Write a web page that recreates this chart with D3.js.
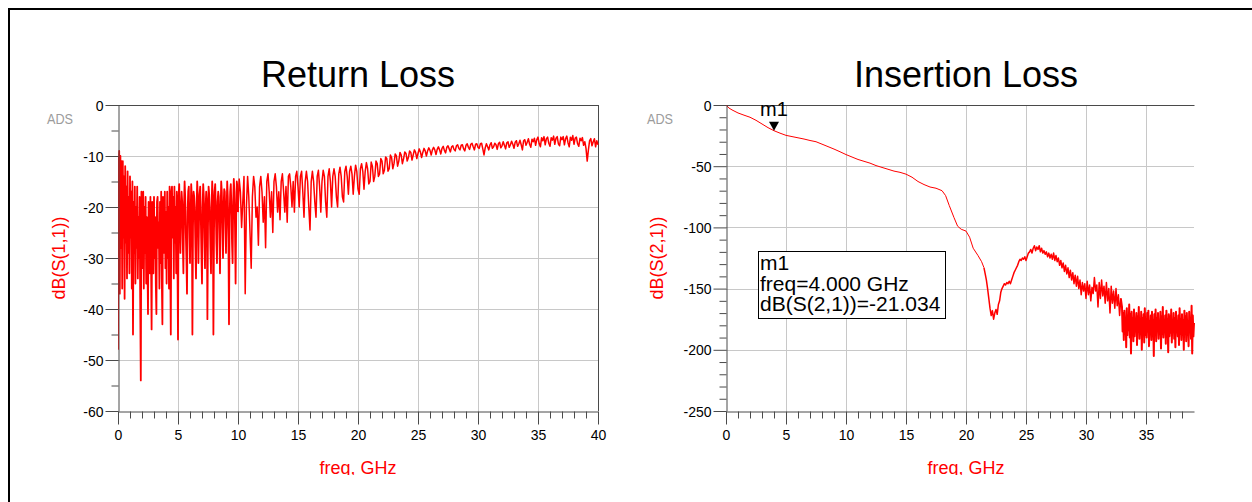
<!DOCTYPE html>
<html><head><meta charset="utf-8">
<script src="https://cdn.jsdelivr.net/npm/d3@7"></script>
<style>
html,body{margin:0;padding:0;background:#fff;}
svg{display:block;font-family:"Liberation Sans",Arial,Helvetica,sans-serif;}
</style></head><body>
<svg id="c" width="1252" height="502"></svg>
<script>
// ---------- DATA ----------
// Return loss dB(S(1,1)), sweep 0..10 GHz step 0.05
const rlLowStart = 0, rlLowStep = 0.05;
const rlLowDb = [
-48,-12,-9,-37,-10,-28,-11,-36,-11,-26,-14,-38,-12,-27,-16,-34,-13,-29,-18,-33,
-14,-26,-17,-36,-15,-45,-19,-29,-16,-35,-20,-28,-16,-34,-22,-30,-18,-38,-54,-17,
-21,-32,-17,-36,-20,-29,-18,-35,-22,-30,-41,-19,-20,-33,-18,-29,-44,-19,-21,-33,
-18,-30,-22,-35,-41,-19,-18,-28,-23,-36,-19,-31,-17,-34,-43,-18,-22,-29,-17,-32,
-21,-35,-17,-30,-20,-36,-16,-28,-45,-17,-16,-26,-18,-34,-16,-27,-20,-33,-17,-29,
-46,-18,-15.5,-22,-29,-21,-17,-19,-27,-33,-20,-15,-18,-25,-30,-37,-21,-17,-16,-24,
-31,-22,-15.5,-18,-45,-24,-17,-18,-21,-28,-34,-20,-15,-18,-31,-23,-17.5,-16,-22,-29,
-35,-20,-15.5,-18,-26,-32,-20,-17,-19,-42,-24,-16,-17.5,-21,-28,-33,-20,-15,-18,-45,
-25,-17,-15.5,-20,-27,-31,-19,-17,-18,-25,-33,-21,-15,-17,-24,-30,-20,-16.5,-17,-23,
-29,-21,-15,-18,-26,-43,-22,-17,-15.5,-20,-27,-31,-19,-14.5,-17,-24,-35,-22,-15,-16,
-21
];
// Return loss, sweep 10.1..40 GHz step 0.1
const rlHighStart = 10.1, rlHighStep = 0.1;
const rlHighDb = [
-14.5,-17,-24,-19,-14,-37,-20,-14,-18,-25,
-32,-18,-14,-16,-22,-20,-27.5,-16,-14,-17,
-23,-18,-28,-15,-13.5,-17,-22,-17,-25,-15,
-13.5,-16,-21,-17,-22.5,-15,-13.5,-17,-21,-16,
-23,-14,-13.5,-16,-20,-15,-21,-14,-13,-16,
-20,-14,-13,-17,-22,-15,-13,-15,-20,-24.5,
-15,-13,-15,-19,-22,-14,-12.8,-16,-21,-15,
-12.8,-14,-19,-22,-14,-12.5,-15,-20,-14,-12.5,
-14,-18,-20,-13.5,-12.2,-14,-18,-19,-13,-12,
-14,-17.5,-13,-12,-13.5,-17.5,-14,-11.8,-13,-16.5,
-17.5,-12.5,-11.5,-13,-16.5,-13,-11.3,-12.5,-15.5,-15,
-11.2,-12,-15,-14,-11,-11.5,-14,-13.5,-10.5,-11,
-13.5,-12.8,-10.2,-10.5,-13,-12.5,-9.8,-10.3,-12.5,-11.5,
-9.6,-10,-12,-11,-9.3,-9.8,-11.5,-10.5,-9.2,-9.5,
-11,-10.3,-9,-9.3,-10.8,-9.8,-8.8,-9.3,-10.5,-9.5,
-8.6,-9.2,-10.3,-9.3,-8.5,-9,-10,-9,-8.4,-8.9,
-9.8,-8.8,-8.3,-8.8,-9.7,-8.7,-8.2,-8.8,-9.6,-8.5,
-8.1,-8.9,-9.4,-8.3,-8.0,-8.6,-9.2,-8.2,-8.0,-8.7,
-9.0,-8.0,-7.8,-8.5,-8.8,-7.9,-7.8,-8.6,-9.0,-7.9,
-7.6,-8.3,-8.7,-7.7,-7.5,-8.2,-8.8,-7.7,-7.6,-8.3,
-8.5,-7.6,-7.5,-8.6,-9.8,-8.4,-7.6,-8.2,-8.8,-7.8,
-7.4,-8.5,-8.2,-7.5,-7.8,-8.7,-7.6,-7.3,-8.4,-8.0,
-7.2,-7.9,-8.6,-7.4,-7.2,-8.3,-7.8,-7.1,-7.7,-8.5,
-7.3,-7.0,-8.1,-7.6,-6.9,-7.8,-8.8,-7.0,-6.8,-7.9,
-7.3,-6.6,-7.7,-8.3,-6.7,-7.2,-6.5,-7.9,-6.8,-6.3,
-7.6,-8.2,-6.4,-7.0,-6.2,-7.8,-6.6,-6.3,-7.5,-8.1,
-6.4,-6.9,-6.1,-7.7,-6.5,-6.2,-7.6,-8.0,-6.3,-6.8,
-6.2,-7.8,-6.6,-6.1,-7.4,-8.2,-6.3,-6.9,-6.0,-7.7,
-6.5,-6.3,-7.6,-8.1,-6.5,-7.0,-6.4,-7.9,-7.2,-8.5,
-11.0,-8.8,-7.0,-6.6,-8.0,-7.2,-6.6,-8.2,-7.0,-7.8
];

// Insertion loss dB(S(2,1)), smooth part
const ilSmoothFreq = [0,0.25,0.5,1,1.5,2,2.5,3,3.5,4,4.5,5,5.5,6,6.5,7,7.5,8,8.5,9,9.5,10,10.5,11,11.5,12,12.5,13,13.5,14,14.5,15,15.5,16,16.5,17,17.5,18,18.3,18.6,19,19.3,19.6,20,20.3,20.6,21,21.3,21.5];
const ilSmoothDb   = [0,-2.5,-4,-6.5,-8.3,-10,-12.5,-15.5,-18.5,-21,-23,-24.8,-25.8,-26.8,-27.8,-29,-30,-32,-34,-36,-38.2,-40.5,-42.5,-44.5,-46,-47.5,-49.5,-51,-52.5,-54,-55,-56.5,-59,-62.5,-65,-67,-68,-70,-74,-82,-92,-99,-101.5,-103,-108,-117,-123,-128,-133];
// Insertion loss, noisy part 21.6..32.9 GHz step 0.1
const ilMidStart = 21.6, ilMidStep = 0.1;
const ilMidDb = [
-138,-143,-150,-158,-166,-172,-168,-175,-170,-167,
-171,-163,-160,-153,-150,-148,-146,-147,-145,-146,
-144,-146,-143,-140,-137,-135,-133,-131,-128,-126,
-127,-125,-126,-124,-127,-124,-121,-120,-118,-121,
-117,-115,-119,-116,-118,-115,-120,-117,-121,-119,
-122,-120,-124,-121,-125,-122,-126,-121,-127,-123,
-128,-125,-131,-127,-133,-129,-136,-131,-138,-133,
-141,-135,-143,-137,-146,-139,-148,-140,-150,-143,
-155,-145,-152,-146,-158,-144,-155,-147,-160,-149,
-154,-141,-152,-147,-165,-145,-158,-143,-156,-148,
-162,-145,-160,-150,-170,-148,-162,-152,-166,-150,
-164,-155,-172,-158
];
// Insertion loss, noisy part 33..39 GHz step 0.05
const ilHighStart = 33.0, ilHighStep = 0.05;
const ilHighDb = [
-165,-185,-170,-192,-168,-180,-175,-198,-166,-188,-172,-184,-163,-190,-171,-203,-169,-186,-174,-193,
-167,-189,-176,-182,-170,-196,-173,-185,-165,-191,-178,-187,-169,-200,-174,-183,-171,-194,-166,-188,
-175,-190,-170,-185,-168,-197,-177,-186,-172,-192,-169,-183,-176,-205,-171,-188,-167,-193,-174,-184,
-170,-191,-178,-186,-169,-199,-173,-187,-165,-190,-177,-185,-172,-195,-168,-182,-175,-202,-171,-189,
-173,-186,-167,-194,-176,-184,-170,-191,-174,-198,-169,-185,-178,-189,-172,-196,-166,-187,-175,-192,
-171,-188,-176,-200,-168,-185,-173,-193,-170,-186,-177,-197,-169,-184,-174,-191,-164,-203,-172,-189,
-178
];

// Axes ticks
const rlXTicks = [0,5,10,15,20,25,30,35,40];
const rlYTicks = [0,-10,-20,-30,-40,-50,-60];
const ilXTicks = [0,5,10,15,20,25,30,35];
const ilYTicks = [0,-50,-100,-150,-200,-250];

// Marker
const markerName = "m1";
const markerFreq = 4.0;
const markerDb = -21.034;

// ---------- DRAW ----------
const svg = d3.select('#c');
svg.append('rect').attr('width',1252).attr('height',502).attr('fill','#fff');
svg.append('path').attr('d','M9,503V9H1253').attr('fill','none').attr('stroke','#000').attr('stroke-width',2);

function sweep(start, step, vals){ return vals.map((v,i)=>[start + i*step, v]); }

const AXC = '#4a4a4a', GRID = '#c8c8c8', RED = '#ff0000';
let clipId = 0;

function panel(cfg){
  const g = svg.append('g');
  const x = d3.scaleLinear().domain(cfg.xDomain).range([cfg.x0, cfg.x1]);
  const y = d3.scaleLinear().domain([cfg.yDomain[1], cfg.yDomain[0]]).range([105, 411]);
  const px = v => Math.round(x(v)) + 0.5, py = v => Math.round(y(v)) + 0.5;

  // grid
  g.append('g').selectAll('line').data(cfg.xTicks.filter(t=>t>cfg.xDomain[0] && t<cfg.xDomain[1]))
    .join('line').attr('x1',px).attr('x2',px).attr('y1',105).attr('y2',411)
    .attr('stroke',GRID).attr('stroke-width',1);
  g.append('g').selectAll('line').data(cfg.yTicks.filter(t=>t<cfg.yDomain[1] && t>cfg.yDomain[0]))
    .join('line').attr('y1',py).attr('y2',py).attr('x1',cfg.x0).attr('x2',cfg.x1)
    .attr('stroke',GRID).attr('stroke-width',1);

  // frame top / right
  g.append('line').attr('x1',cfg.x0).attr('x2',cfg.x1+0.5).attr('y1',105.5).attr('y2',105.5).attr('stroke',AXC);
  if (cfg.rightFrame) g.append('line').attr('x1',px(cfg.xDomain[1])).attr('x2',px(cfg.xDomain[1])).attr('y1',105).attr('y2',411).attr('stroke',AXC);

  // data (each trace piece may have its own stroke width)
  const cid = 'clip' + (clipId++);
  g.append('clipPath').attr('id',cid).append('rect').attr('x',cfg.x0).attr('y',104).attr('width',cfg.x1-cfg.x0+1).attr('height',308);
  const line = d3.line().x(d=>x(d[0])).y(d=>y(d[1]));
  cfg.traces.forEach(t=>{
    g.append('path').datum(t.data).attr('d',line).attr('fill','none').attr('stroke',RED)
      .attr('stroke-width',t.width).attr('stroke-linejoin','round').attr('clip-path',`url(#${cid})`);
  });

  // axes
  const fmt = d => String(d);
  const yb = Math.round(y(cfg.yDomain[0])) + 0.5;
  const xl = Math.round(x(cfg.xDomain[0])) + 0.5;
  const xa = g.append('g').attr('transform',`translate(0,${yb})`)
    .call(d3.axisBottom(x).tickValues(cfg.xTicks).tickSize(13).tickSizeOuter(0).tickPadding(6).tickFormat(fmt));
  const xm = g.append('g').attr('transform',`translate(0,${yb})`)
    .call(d3.axisBottom(x).tickValues(cfg.xMinor).tickSize(7).tickSizeOuter(0).tickFormat(''));
  const ya = g.append('g').attr('transform',`translate(${xl},0)`)
    .call(d3.axisLeft(y).tickValues(cfg.yTicks).tickSize(13).tickSizeOuter(0).tickPadding(2).tickFormat(fmt));
  const ym = g.append('g').attr('transform',`translate(${xl},0)`)
    .call(d3.axisLeft(y).tickValues(cfg.yMinor).tickSize(7).tickSizeOuter(0).tickFormat(''));
  [xa,xm,ya,ym].forEach(a=>{
    a.attr('font-family',null).attr('font-size',null);
    a.selectAll('.domain').attr('stroke',AXC);
    a.selectAll('.tick line').attr('stroke',AXC);
    a.selectAll('.tick text').attr('fill','#000').style('font-size','14px');
  });
  xm.select('.domain').remove(); ym.select('.domain').remove();
  ya.selectAll('.tick text').attr('dy','0.36em');

  // title
  svg.append('text').attr('x',cfg.titleX).attr('y',87).attr('text-anchor','middle')
    .style('font-size','36px').attr('fill','#000').text(cfg.title);
  // ADS
  svg.append('text').attr('x',cfg.adsX).attr('y',124).attr('textLength',26).attr('lengthAdjust','spacingAndGlyphs')
    .style('font-size','14px').attr('fill','#9c9c9c').text('ADS');
  // y label
  svg.append('text').attr('transform',`translate(${cfg.yLabelX},258) rotate(-90)`).attr('text-anchor','middle')
    .style('font-size','18px').attr('fill',RED).text(cfg.yLabel);
  // x label (clipped at bottom like the reference)
  const lid = 'lclip' + (clipId++);
  svg.append('clipPath').attr('id',lid).append('rect').attr('x',cfg.titleX-80).attr('y',440).attr('width',160).attr('height',35);
  svg.append('text').attr('x',cfg.titleX).attr('y',473.5).attr('text-anchor','middle')
    .style('font-size','18px').attr('fill',RED).attr('clip-path',`url(#${lid})`).text('freq, GHz');
  return {x,y,g};
}

const rlLow = sweep(rlLowStart, rlLowStep, rlLowDb);
const rlHigh = [rlLow[rlLow.length-1]].concat(sweep(rlHighStart, rlHighStep, rlHighDb));
panel({
  x0:118, x1:598, xDomain:[0,40], yDomain:[-60,0],
  xTicks:rlXTicks, yTicks:rlYTicks,
  xMinor:d3.range(1,40).filter(v=>v%5!==0), yMinor:d3.range(-55,0,10),
  rightFrame:true, traces:[{data:rlLow, width:1.8}, {data:rlHigh, width:1.5}],
  title:'Return Loss', titleX:358, adsX:47, yLabel:'dB(S(1,1))', yLabelX:65
});

const ilSmooth = ilSmoothFreq.map((f,i)=>[f, ilSmoothDb[i]]);
const ilMid = [ilSmooth[ilSmooth.length-1]].concat(sweep(ilMidStart, ilMidStep, ilMidDb));
const ilHigh = [ilMid[ilMid.length-1]].concat(sweep(ilHighStart, ilHighStep, ilHighDb));
const ip = panel({
  x0:726, x1:1194, xDomain:[0,39], yDomain:[-250,0],
  xTicks:ilXTicks, yTicks:ilYTicks,
  xMinor:d3.range(1,39).filter(v=>v%5!==0), yMinor:d3.range(-240,0,10).filter(v=>v%50!==0),
  rightFrame:false, traces:[{data:ilSmooth, width:1}, {data:ilMid, width:1.5}, {data:ilHigh, width:2}],
  title:'Insertion Loss', titleX:966, adsX:647, yLabel:'dB(S(2,1))', yLabelX:663
});

// marker
const mx = ip.x(markerFreq), my = ip.y(markerDb);
ip.g.append('path').attr('d',`M${mx-5},${my-9}L${mx+5},${my-9}L${mx},${my}Z`).attr('fill','#000');
ip.g.append('text').attr('x',mx).attr('y',my-14.5).attr('text-anchor','middle')
  .style('font-size','20px').attr('fill','#000').text(markerName);

// marker readout box
const box = ip.g.append('g');
box.append('rect').attr('x',758.5).attr('y',251.5).attr('width',187).attr('height',67)
  .attr('fill','#fff').attr('stroke','#000').attr('stroke-width',1);
const lines = [markerName, `freq=${markerFreq.toFixed(3)} GHz`, `dB(S(2,1))=${markerDb.toFixed(3)}`];
box.selectAll('text.r').data(lines).join('text').attr('class','r')
  .attr('x',760).attr('y',(d,i)=>270+i*20.5).style('font-size','21px').attr('fill','#000').text(d=>d);
</script>
</body></html>
